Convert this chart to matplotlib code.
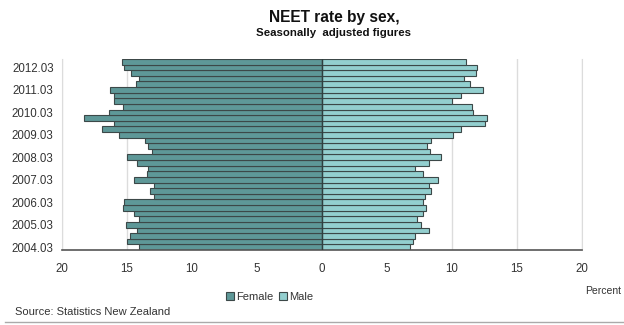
import matplotlib
matplotlib.use("Agg")
import matplotlib.pyplot as plt
from matplotlib.patches import Patch
from matplotlib.lines import Line2D

plt.rcParams['font.family'] = ['Liberation Sans', 'DejaVu Sans']

# Quarterly periods, oldest first
years = list(range(2004, 2013))
quarters = ["03", "06", "09", "12"]
periods = [f"{y}.{q}" for y in years for q in quarters][:34]

# NEET rate (%), seasonally adjusted
female = [14.1, 15.0, 14.8, 14.2, 15.1, 14.1, 14.5, 15.3, 15.2, 12.9,
          13.2, 12.9, 14.5, 13.5, 13.4, 14.2, 15.0, 13.1, 13.4, 13.6,
          15.6, 16.9, 16.0, 18.3, 16.4, 15.3, 16.0, 16.0, 16.3, 14.3,
          14.05, 14.7, 15.2, 15.4]
male = [6.8, 7.0, 7.15, 8.2, 7.6, 7.3, 7.75, 8.0, 7.75, 7.9,
        8.4, 8.2, 8.95, 7.75, 7.15, 8.2, 9.15, 8.3, 8.1, 8.4,
        10.1, 10.7, 12.5, 12.7, 11.6, 11.5, 10.0, 10.7, 12.4, 11.4,
        10.9, 11.85, 11.95, 11.1]

x_ticks = [-20, -15, -10, -5, 0, 5, 10, 15, 20]
x_labels = ["20", "15", "10", "5", "0", "5", "10", "15", "20"]

female_col = "#5E9898"
male_col = "#93CFCF"
edge_col = "#3C4848"
text_col = "#333333"

fig = plt.figure(figsize=(6.24, 3.25), dpi=100)
ax = fig.add_axes([62 / 624, 75 / 325, 520 / 624, 191 / 325])

pos = list(range(len(periods)))
ax.barh(pos, [-v for v in female], height=1.0, color=female_col,
        edgecolor=edge_col, linewidth=0.8, zorder=2)
ax.barh(pos, male, height=1.0, color=male_col,
        edgecolor=edge_col, linewidth=0.8, zorder=2)
ax.axvline(0, color="#2F3F3F", linewidth=1.0, zorder=3)

ax.set_xlim(-20, 20)
ax.set_ylim(-0.5, len(periods) - 0.5)
ax.set_xticks(x_ticks)
ax.set_xticklabels(x_labels)
ax.set_yticks(pos[::4])
ax.set_yticklabels(periods[::4])
ax.tick_params(length=0, labelsize=8.3, labelcolor=text_col)
ax.tick_params(axis="x", pad=9)
ax.tick_params(axis="y", pad=6)

ax.grid(axis="x", color="#DCDCDC", linewidth=1.0, zorder=0)
ax.set_axisbelow(True)
ax.spines["top"].set_visible(False)
ax.spines["left"].set_color("#DCDCDC")
ax.spines["right"].set_color("#DCDCDC")
ax.spines["bottom"].set_color("#555555")
ax.spines["bottom"].set_linewidth(1.2)

fig.text(0.535, 0.945, "NEET rate by sex,", ha="center", va="center",
         fontsize=11.2, fontweight="bold", color="#111111")
fig.text(0.535, 0.898, "Seasonally  adjusted figures", ha="center", va="center",
         fontsize=8.2, fontweight="bold", color="#111111")

fig.text(0.995, 0.105, "Percent", ha="right", va="center", fontsize=7.5,
         color=text_col)

handles = [Patch(facecolor=female_col, edgecolor=edge_col, linewidth=0.8),
           Patch(facecolor=male_col, edgecolor=edge_col, linewidth=0.8)]
fig.legend(handles, ["Female", "Male"], loc="center", bbox_to_anchor=(0.432, 0.086),
           ncol=2, frameon=False, fontsize=8, handlelength=0.7, handleheight=0.7,
           handletextpad=0.2, columnspacing=0.5, labelcolor=text_col)

fig.text(0.024, 0.040, "Source: Statistics New Zealand", ha="left", va="center",
         fontsize=8, color=text_col)
fig.add_artist(Line2D([0.008, 1.0], [0.009, 0.009], color="#AAAAAA",
                      linewidth=1.0, transform=fig.transFigure))

fig.savefig("out.png", dpi=100)
